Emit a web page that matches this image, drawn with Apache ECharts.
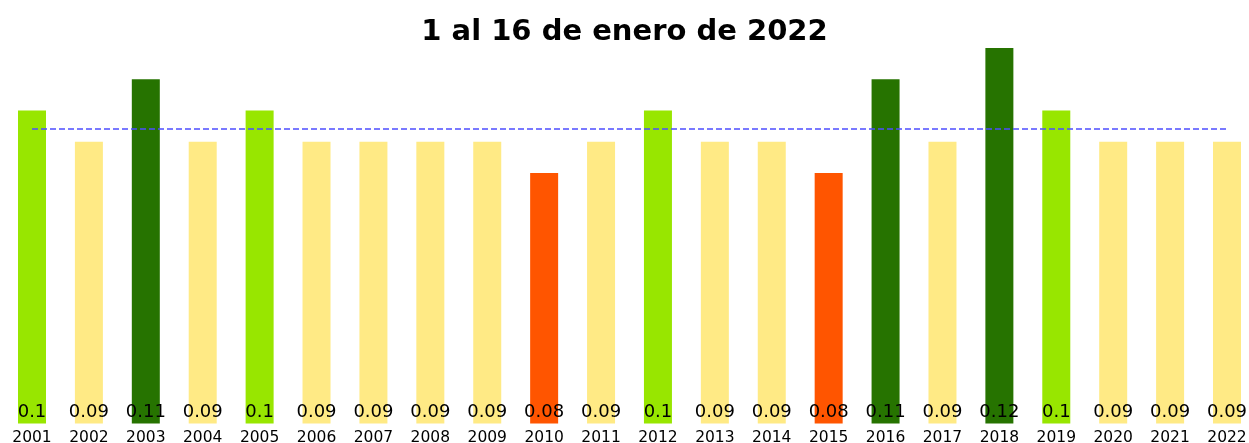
<!DOCTYPE html>
<html>
<head>
<meta charset="utf-8">
<style>
  html, body { margin: 0; padding: 0; background: #ffffff; }
  #chart { width: 1249px; height: 443px; }
</style>
<script src="https://cdn.jsdelivr.net/npm/echarts@6/dist/echarts.min.js"></script>
</head>
<body>
<div id="chart"></div>
<script>
// Values per year, 1 to 16 January
const years = ['2001', '2002', '2003', '2004', '2005', '2006', '2007', '2008', '2009', '2010', '2011',
               '2012', '2013', '2014', '2015', '2016', '2017', '2018', '2019', '2020', '2021', '2022'];
const values = [0.1, 0.09, 0.11, 0.09, 0.1, 0.09, 0.09, 0.09, 0.09, 0.08, 0.09,
                0.1, 0.09, 0.09, 0.08, 0.11, 0.09, 0.12, 0.1, 0.09, 0.09, 0.09];
const titleText = '1 al 16 de enero de 2022';

// Colour class for each bar, by value
function barColor(v) {
  if (v <= 0.085) return '#FF5500';
  if (v <= 0.095) return '#FFEA85';
  if (v <= 0.105) return '#98E600';
  return '#267300';
}

const chart = echarts.init(document.getElementById('chart'), null, { renderer: 'canvas' });

chart.setOption({
  animation: false,
  backgroundColor: '#ffffff',
  title: {
    text: titleText,
    left: 'center',
    top: 18,
    padding: [0, 0, 0, 11],
    textStyle: {
      fontFamily: 'DejaVu Sans',
      fontWeight: 'bold',
      fontSize: 29,
      color: '#000000'
    }
  },
  grid: {
    left: 32, right: 22, top: 16.6, bottom: 19.5,
    containLabel: false,
    outerBoundsMode: 'none'
  },
  xAxis: {
    type: 'category',
    data: years,
    boundaryGap: false,
    axisLine: { show: false },
    axisTick: { show: false },
    splitLine: { show: false },
    axisLabel: {
      interval: 0,
      margin: 6,
      color: '#000000',
      fontFamily: 'DejaVu Sans',
      fontSize: 15.5
    }
  },
  yAxis: {
    type: 'value',
    min: 0,
    max: 0.13,
    show: false,
    splitLine: { show: false }
  },
  series: [{
    type: 'bar',
    barWidth: 28,
    clip: false,
    data: values.map(v => ({ value: v, itemStyle: { color: barColor(v) } })),
    label: {
      show: true,
      position: 'insideBottom',
      distance: 2,
      color: '#000000',
      fontFamily: 'DejaVu Sans',
      fontSize: 18
    },
    // dashed line at the mean of all years
    markLine: {
      silent: true,
      symbol: 'none',
      precision: 4,
      label: { show: false },
      lineStyle: { color: '#4D4DFF', width: 1.5, type: [6, 3] },
      data: [{ type: 'average' }]
    }
  }]
});
</script>
</body>
</html>
